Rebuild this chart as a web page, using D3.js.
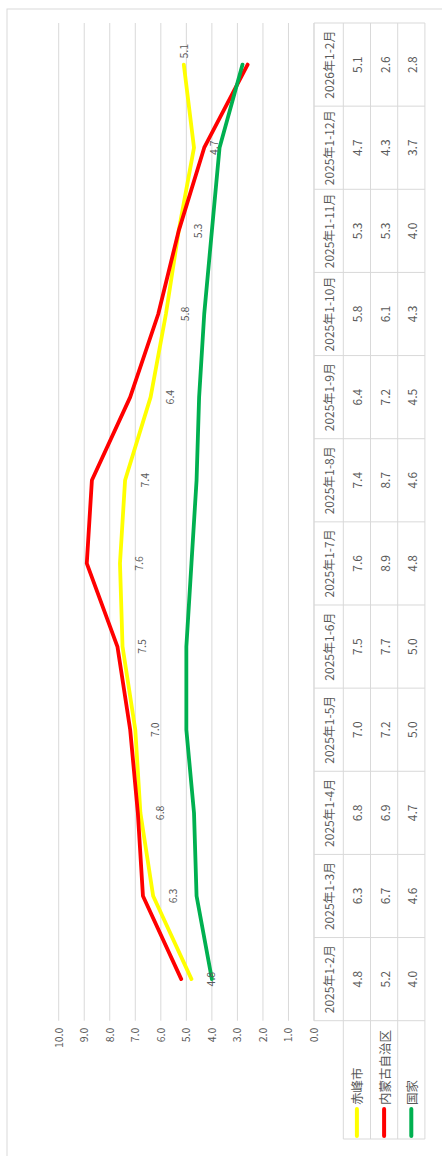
<!DOCTYPE html>
<html>
<head>
<meta charset="utf-8">
<script src="https://cdn.jsdelivr.net/npm/d3@7"></script>
<style>
    html, body { margin: 0; padding: 0; background: #fff; }
    svg { display: block; }
</style>
</head>
<body>
<div id="chart"></div>
<script>
// data
var categories = ["2025年1-2月", "2025年1-3月", "2025年1-4月", "2025年1-5月", "2025年1-6月", "2025年1-7月",
                  "2025年1-8月", "2025年1-9月", "2025年1-10月", "2025年1-11月", "2025年1-12月", "2026年1-2月"];
var seriesNames = ["赤峰市", "内蒙古自治区", "国家"];
var chifeng = [4.8, 6.3, 6.8, 7.0, 7.5, 7.6, 7.4, 6.4, 5.8, 5.3, 4.7, 5.1];
var neimenggu = [5.2, 6.7, 6.9, 7.2, 7.7, 8.9, 8.7, 7.2, 6.1, 5.3, 4.3, 2.6];
var guojia = [4.0, 4.6, 4.7, 5.0, 5.0, 4.8, 4.6, 4.5, 4.3, 4.0, 3.7, 2.8];
var yTicks = [0, 1, 2, 3, 4, 5, 6, 7, 8, 9, 10];

var seriesValues = [chifeng, neimenggu, guojia];
var seriesColors = ["#ffff00", "#ff0000", "#00b050"];

var pageW = 442, pageH = 1156;
// the Excel chart is drawn flat (W x H) then turned a quarter to the left
var W = pageH;
var plotLeft = 135.3, plotRight = 1133,
    tableTop = 314, rowH = 27.2, headerH = 29.3,
    legendLeft = 17;
var fontCJK = "'Noto Sans CJK SC', 'Noto Sans', sans-serif";
var gridColor = "#d9d9d9", textColor = "#595959";

var svg = d3.select("#chart").append("svg")
    .attr("width", pageW)
    .attr("height", pageH)
    .style("font-family", fontCJK);

var g = svg.append("g")
    .attr("transform", "translate(0," + pageH + ") rotate(-90)");

// outer chart border
g.append("rect")
    .attr("x", -20).attr("y", 7)
    .attr("width", W - 9 + 20).attr("height", 480)
    .attr("fill", "none")
    .attr("stroke", gridColor)
    .attr("stroke-width", 1);

var x = d3.scaleBand().domain(categories).range([plotLeft, plotRight]);
var y = d3.scaleLinear().domain([0, 10]).range([tableTop, 58.7]);
var cx = function(c) { return x(c) + x.bandwidth() / 2; };

// gridlines
g.append("g").selectAll("line")
    .data(yTicks).enter().append("line")
    .attr("x1", plotLeft).attr("x2", plotRight)
    .attr("y1", function(d) { return y(d); })
    .attr("y2", function(d) { return y(d); })
    .attr("stroke", gridColor).attr("stroke-width", 1);

// value axis labels
var yAxis = d3.axisLeft(y).tickValues(yTicks).tickFormat(d3.format(".1f")).tickSize(0).tickPadding(7);
var yAxisG = g.append("g")
    .attr("transform", "translate(" + plotLeft + ",0)")
    .call(yAxis);
yAxisG.select(".domain").remove();
yAxisG.selectAll("text")
    .attr("fill", textColor)
    .style("font-family", fontCJK)
    .style("font-size", "10.5px");

// data table grid
var tableBottom = tableTop + headerH + rowH * 3;
var rowY = [tableTop + headerH, tableTop + headerH + rowH, tableTop + headerH + rowH * 2, tableBottom];
var tbl = g.append("g").attr("stroke", gridColor).attr("stroke-width", 1);
tbl.append("line")
    .attr("x1", plotLeft).attr("x2", plotRight)
    .attr("y1", tableTop).attr("y2", tableTop);
tbl.selectAll(".row-line").data(rowY).enter().append("line")
    .attr("x1", legendLeft).attr("x2", plotRight)
    .attr("y1", function(d) { return d; })
    .attr("y2", function(d) { return d; });
var colX = categories.map(function(c) { return x(c); }).concat([plotRight]);
tbl.selectAll(".col-line").data(colX).enter().append("line")
    .attr("x1", function(d) { return d; })
    .attr("x2", function(d) { return d; })
    .attr("y1", tableTop).attr("y2", tableBottom);
tbl.append("line")
    .attr("x1", legendLeft).attr("x2", legendLeft)
    .attr("y1", tableTop + headerH).attr("y2", tableBottom);

// header labels
g.append("g").selectAll("text")
    .data(categories).enter().append("text")
    .attr("x", cx)
    .attr("y", tableTop + headerH / 2)
    .attr("text-anchor", "middle")
    .attr("dominant-baseline", "central")
    .attr("fill", textColor)
    .style("font-size", "12px")
    .text(function(d) { return d; });

// value rows + legend keys
seriesValues.forEach(function(vals, si) {
    var rowMid = rowY[si] + rowH / 2;
    var row = g.append("g");
    row.selectAll("text")
        .data(vals).enter().append("text")
        .attr("x", function(d, i) { return cx(categories[i]); })
        .attr("y", rowMid)
        .attr("text-anchor", "middle")
        .attr("dominant-baseline", "central")
        .attr("fill", textColor)
        .style("font-size", "12px")
        .text(function(d) { return d3.format(".1f")(d); });
    row.append("line")
        .attr("x1", legendLeft + 3).attr("x2", legendLeft + 30)
        .attr("y1", rowMid).attr("y2", rowMid)
        .attr("stroke", seriesColors[si])
        .attr("stroke-width", 4)
        .attr("stroke-linecap", "round");
    row.append("text")
        .attr("x", legendLeft + 34)
        .attr("y", rowMid)
        .attr("dominant-baseline", "central")
        .attr("fill", textColor)
        .style("font-size", "12.5px")
        .text(seriesNames[si]);
});

// series lines, in Excel order
var line = d3.line()
    .x(function(d, i) { return cx(categories[i]); })
    .y(function(d) { return y(d); });
g.append("g").selectAll("path")
    .data(seriesValues).enter().append("path")
    .attr("d", line)
    .attr("fill", "none")
    .attr("stroke", function(d, i) { return seriesColors[i]; })
    .attr("stroke-width", 3.8)
    .attr("stroke-linejoin", "round")
    .attr("stroke-linecap", "round");

// data labels on 赤峰市 only
var last = chifeng.length - 1;
g.append("g").selectAll("text")
    .data(chifeng).enter().append("text")
    .attr("x", function(d, i) { return cx(categories[i]) + (i === last ? 6 : 0); })
    .attr("y", function(d, i) { return y(d) + (i === last ? 0 : 19); })
    .attr("text-anchor", function(d, i) { return i === last ? "start" : "middle"; })
    .attr("dominant-baseline", "central")
    .attr("fill", textColor)
    .style("font-size", "10.5px")
    .text(function(d) { return d3.format(".1f")(d); });
</script>
</body>
</html>
